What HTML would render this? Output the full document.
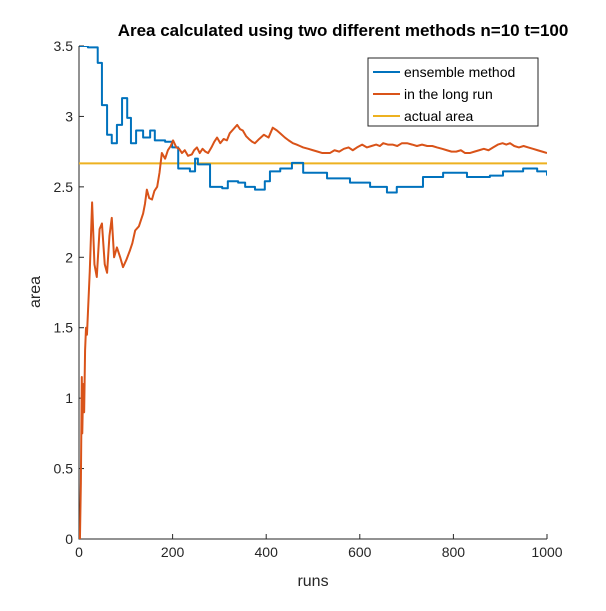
<!DOCTYPE html>
<html><head><meta charset="utf-8"><style>
body{margin:0;background:#fff}
svg{font-family:"Liberation Sans",Arial,sans-serif}
</style></head><body>
<svg id="chart" width="606" height="606" viewBox="0 0 606 606">
<rect width="606" height="606" fill="#fff"/>
<text x="343" y="36" text-anchor="middle" font-size="17" font-weight="bold">Area calculated using two different methods n=10  t=100</text>
<g id="axes"></g>
<g id="plot"></g>
<text x="313" y="586" text-anchor="middle" font-size="16" fill="#262626">runs</text>
<text transform="translate(40,292) rotate(-90)" text-anchor="middle" font-size="16" fill="#262626">area</text>
<g>
<rect x="368" y="58" width="170" height="68" fill="#fff" stroke="#262626" stroke-width="1"/>
<line x1="373" y1="72" x2="400" y2="72" stroke="#0072BD" stroke-width="2"/>
<text x="404" y="77" font-size="14">ensemble method</text>
<line x1="373" y1="94" x2="400" y2="94" stroke="#D95319" stroke-width="2"/>
<text x="404" y="99" font-size="14">in the long run</text>
<line x1="373" y1="116" x2="400" y2="116" stroke="#EDB120" stroke-width="2"/>
<text x="404" y="121" font-size="14">actual area</text>
</g>
</svg>
<script>
const xTicks=[0,200,400,600,800,1000];
const yTicks=[0,0.5,1,1.5,2,2.5,3,3.5];
const actualArea=2.667;
const ensembleX=[1,5,19,40,49,60,70,81,92,103,111,122,137,152,162,184,199,212,237,248,254,280,306,318,340,355,376,397,408,430,455,479,530,579,622,658,679,735,778,829,878,906,949,979,1000];
const ensembleY=[3.5,3.5,3.49,3.38,3.08,2.87,2.81,2.94,3.13,2.99,2.81,2.90,2.85,2.90,2.83,2.82,2.78,2.63,2.61,2.70,2.66,2.50,2.49,2.54,2.53,2.50,2.48,2.54,2.61,2.63,2.67,2.60,2.56,2.53,2.50,2.46,2.50,2.57,2.60,2.57,2.58,2.61,2.63,2.61,2.58];
const longRunX=[2,4,6,7,9,11,13,15,17,19,23,28,33,38,44,49,55,60,65,70,75,81,88,94,101,109,114,120,128,137,141,145,150,156,161,167,172,177,184,190,196,201,208,214,220,226,233,241,246,252,258,264,270,276,283,289,295,302,309,316,322,330,338,344,350,357,363,370,376,385,395,405,414,423,430,440,448,457,465,472,479,490,500,510,520,530,536,546,556,566,576,585,594,605,615,625,635,643,650,660,670,680,690,701,712,722,733,744,755,765,776,786,796,806,816,825,835,845,855,865,875,885,895,905,913,921,930,940,950,960,970,980,990,1000];
const longRunY=[0,0.4,1.15,0.75,1.1,0.9,1.34,1.5,1.45,1.6,1.9,2.39,1.95,1.86,2.2,2.24,1.95,1.89,2.15,2.28,2.0,2.07,2.0,1.93,1.98,2.05,2.1,2.19,2.22,2.31,2.38,2.48,2.42,2.41,2.47,2.50,2.60,2.74,2.70,2.76,2.79,2.83,2.78,2.77,2.74,2.76,2.72,2.73,2.76,2.78,2.74,2.77,2.75,2.74,2.78,2.82,2.85,2.81,2.84,2.83,2.88,2.91,2.94,2.91,2.90,2.86,2.84,2.82,2.81,2.84,2.87,2.85,2.92,2.90,2.88,2.85,2.83,2.81,2.80,2.79,2.78,2.77,2.76,2.75,2.74,2.74,2.74,2.76,2.75,2.77,2.78,2.76,2.78,2.80,2.78,2.79,2.80,2.79,2.81,2.80,2.80,2.79,2.81,2.81,2.80,2.79,2.80,2.79,2.79,2.78,2.77,2.76,2.75,2.75,2.76,2.74,2.74,2.75,2.76,2.77,2.76,2.78,2.80,2.81,2.80,2.81,2.79,2.78,2.79,2.78,2.77,2.76,2.75,2.74];
const NS='http://www.w3.org/2000/svg';
const X0=79,X1=547,Y0=539,Y1=46;
function sx(v){return X0+v/1000*(X1-X0);}
function sy(v){return Y0-v/3.5*(Y0-Y1);}
function mk(tag,attrs,parent){const e=document.createElementNS(NS,tag);for(const k in attrs)e.setAttribute(k,attrs[k]);parent.appendChild(e);return e;}
const axes=document.getElementById('axes'),plot=document.getElementById('plot');
const ax=mk('path',{d:`M${X0},${Y1}V${Y0}H${X1}`,fill:'none',stroke:'#262626','stroke-width':1},axes);


xTicks.forEach(t=>{
  const l=mk('line',{x1:sx(t),x2:sx(t),y1:Y0,y2:Y0-5,stroke:'#262626'},axes);
  
  
  const tx=mk('text',{x:sx(t),y:Y0+18,'text-anchor':'middle','font-size':14,fill:'#262626'},axes);
  tx.textContent=t;
  
  
});
yTicks.forEach(t=>{
  const l=mk('line',{x1:X0,x2:X0+5,y1:sy(t),y2:sy(t),stroke:'#262626'},axes);
  
  
  const tx=mk('text',{x:X0-6,y:sy(t)+5,'text-anchor':'end','font-size':14,fill:'#262626'},axes);
  tx.textContent=t;
  
  
});
const clip=mk('clipPath',{id:'pc'},plot);mk('rect',{x:X0,y:Y1,width:X1-X0,height:Y0-Y1},clip);
const a=mk('line',{x1:sx(0),x2:sx(1000),y1:sy(actualArea),y2:sy(actualArea),stroke:'#EDB120','stroke-width':2},plot);


function series(xs,ys,col,step){
  let d='';
  xs.forEach((x,i)=>{
    if(i===0)d+=`M${sx(x)},${sy(ys[i])}`;
    else if(step)d+=`H${sx(x)}V${sy(ys[i])}`;
    else d+=`L${sx(x)},${sy(ys[i])}`;
  });
  return mk('path',{d:d,fill:'none',stroke:col,'stroke-width':2,'clip-path':'url(#pc)','stroke-linejoin':'round'},plot);
}
const e=series(ensembleX,ensembleY,'#0072BD',true);


const r=series(longRunX,longRunY,'#D95319',false);


</script>
</body></html>
